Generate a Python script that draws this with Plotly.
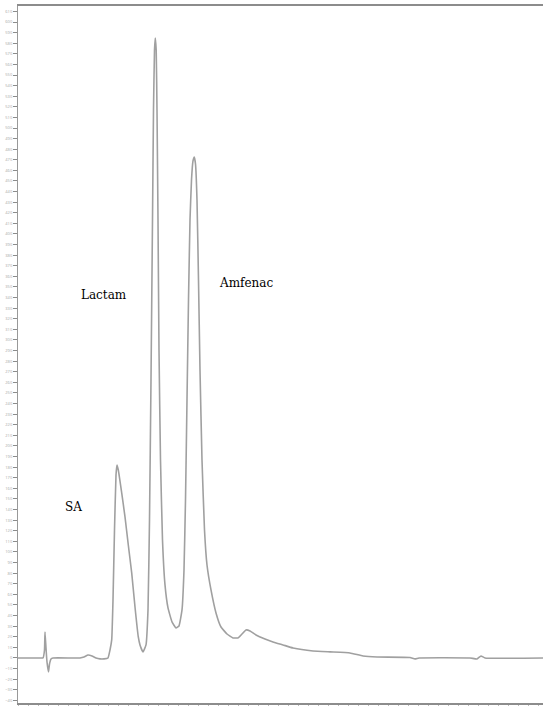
import plotly.graph_objects as go

# Retention time (min) and detector response (mAU)
time_min = [0.00, 0.44, 0.50, 0.53, 0.54, 0.56, 0.58, 0.61, 0.63, 0.66, 0.70,
            1.24, 1.32, 1.40, 1.48, 1.56, 1.64, 1.72, 1.80, 1.84, 1.874, 1.90,
            1.93, 1.96, 1.98, 2.006, 2.074, 2.14, 2.206, 2.274, 2.34, 2.406,
            2.44, 2.50, 2.56, 2.60, 2.63, 2.66, 2.69, 2.71, 2.73, 2.746, 2.764,
            2.78, 2.80, 2.82, 2.85, 2.89, 2.94, 3.00, 3.08, 3.16, 3.22, 3.28,
            3.32, 3.35, 3.38, 3.41, 3.44, 3.47, 3.50, 3.526, 3.55, 3.58, 3.61,
            3.64, 3.68, 3.73, 3.78, 3.86, 3.96, 4.06, 4.18, 4.30, 4.40, 4.48,
            4.56, 4.64, 4.76, 4.94, 5.10, 5.30, 5.50, 5.90, 6.24, 6.64, 6.90,
            7.18, 7.84, 7.94, 8.02, 9.04, 9.18, 9.26, 9.34, 10.50]
signal_mau = [0.0, 0.0, 0.0, 7.5, 24.5, 9.4, -3.8, -13.2, -5.7, -0.9, 0.0,
              0.0, 0.9, 2.8, 1.9, 0.0, -0.9, -0.9, 0.0, 7.5, 17.0, 54.7,
              120.8, 172.6, 182.1, 177.4, 155.7, 133.0, 106.6, 80.2, 48.1, 19.8,
              12.3, 5.7, 12.3, 45.3, 130.2, 262.3, 413.2, 517.0, 573.6, 584.9, 573.6,
              517.0, 413.2, 290.6, 186.8, 111.3, 68.9, 47.2, 34.0, 28.3, 30.2, 45.3,
              83.0, 149.1, 243.4, 337.7, 413.2, 450.9, 468.9, 472.6, 466.0, 432.1, 356.6,
              271.7, 186.8, 120.8, 87.7, 64.2, 42.5, 29.2, 22.6, 18.9, 18.9, 22.6,
              26.4, 25.5, 21.7, 17.9, 15.1, 12.3, 9.4, 6.6, 5.7, 4.7, 1.9,
              0.9, 0.5, -0.9, 0.0, 0.0, -0.9, 1.9, 0.0, 0.0]

peak_names = ["SA", "Lactam", "Amfenac"]
label_time = [1.10, 1.72, 4.56]
label_signal = [142.5, 342.5, 353.8]

fig = go.Figure()
fig.add_trace(go.Scatter(
    x=time_min, y=signal_mau, mode="lines",
    line=dict(color="#a0a0a0", width=1.6, shape="spline", smoothing=0.35),
    hoverinfo="skip", showlegend=False,
))

for name, tx, ty in zip(peak_names, label_time, label_signal):
    fig.add_annotation(x=tx, y=ty, text=name, showarrow=False,
                       font=dict(family="DejaVu Serif",
                                 size=12, color="#000000"))

fig.update_layout(
    width=543, height=706,
    margin=dict(l=18, r=0, t=6, b=3),
    paper_bgcolor="white", plot_bgcolor="white",
    xaxis=dict(range=[0, 10.5], showgrid=False, zeroline=False,
               showline=True, mirror=True, linecolor="#8c8c8c", linewidth=1.5,
               ticks="outside", ticklen=3, tickcolor="#bbbbbb",
               tick0=0, dtick=0.2, showticklabels=False),
    yaxis=dict(range=[-42.5, 615.1], showgrid=False, zeroline=False,
               showline=True, mirror=False, linecolor="#999999", linewidth=1,
               ticks="outside", ticklen=4, tickcolor="#8c8c8c",
               tick0=0, dtick=10, showticklabels=True,
               tickfont=dict(size=4, color="#a8a8a8")),
)

fig.write_html("out.html")
